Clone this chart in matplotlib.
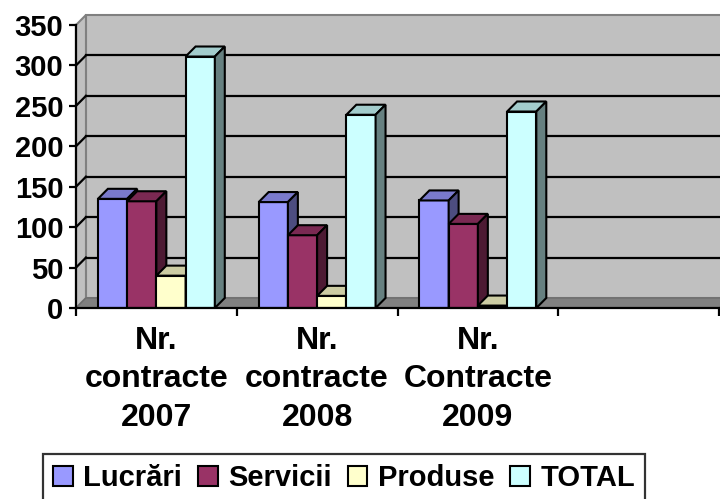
import matplotlib
matplotlib.use('Agg')
import matplotlib.pyplot as plt
from matplotlib.patches import Polygon, Patch

categories = ['Nr.\ncontracte\n2007', 'Nr.\ncontracte\n2008', 'Nr.\nContracte\n2009', '']
series = ['Lucrări', 'Servicii', 'Produse', 'TOTAL']
lucrari = [135, 131, 133]
servicii = [132, 90, 104]
produse = [40, 15, 3]
total = [311, 239, 243]
values = [lucrari, servicii, produse, total]

front = ['#9999FF', '#993366', '#FFFFCC', '#CCFFFF']
top_c = ['#7A7ACC', '#7A2952', '#CCCCA3', '#A3CCCC']
side_c = ['#4D4D80', '#4D1A33', '#808066', '#668080']

plt.rcParams['font.family'] = ['Liberation Sans', 'DejaVu Sans']
plt.rcParams['font.weight'] = 'bold'

fig = plt.figure(figsize=(7.2, 4.99), dpi=100)
ax = fig.add_axes([76 / 720, 191 / 499, 643 / 720, 283 / 499])
ax.set_xlim(0, 4)
ax.set_ylim(0, 350)

dx, dy = 0.062, 12.4
ymax = 350
ncat = len(categories)

# walls and floor
ax.add_patch(Polygon([(dx, dy), (ncat + dx, dy), (ncat + dx, ymax + dy), (dx, ymax + dy)],
                     closed=True, facecolor='#C0C0C0', edgecolor='#808080', lw=1.5,
                     clip_on=False, zorder=0))
ax.add_patch(Polygon([(0, 0), (dx, dy), (dx, ymax + dy), (0, ymax)],
                     closed=True, facecolor='#C0C0C0', edgecolor='#808080', lw=1.5,
                     clip_on=False, zorder=0))
ax.add_patch(Polygon([(0, 0), (ncat, 0), (ncat + dx, dy), (dx, dy)],
                     closed=True, facecolor='#808080', edgecolor='#6E6E6E', lw=1,
                     clip_on=False, zorder=0.5))
for v in range(50, ymax, 50):
    ax.plot([dx, ncat + dx], [v + dy, v + dy], color='black', lw=1.6, clip_on=False, zorder=1)
    ax.plot([0, dx], [v, v + dy], color='black', lw=1.6, clip_on=False, zorder=1)

# 3d bars
w = 1 / 5.5
gap = 0.75 * w
for j, vals in enumerate(values):
    lefts = [i + gap + j * w for i in range(len(vals))]
    ax.bar(lefts, vals, width=w, align='edge', color=front[j], edgecolor='black',
           linewidth=1.5, zorder=3 + j)
    for x0, h in zip(lefts, vals):
        ax.add_patch(Polygon([(x0, h), (x0 + dx, h + dy), (x0 + w + dx, h + dy), (x0 + w, h)],
                             closed=True, facecolor=top_c[j], edgecolor='black', lw=1.5,
                             zorder=3 + j, clip_on=False))
        ax.add_patch(Polygon([(x0 + w, 0), (x0 + w + dx, dy), (x0 + w + dx, h + dy), (x0 + w, h)],
                             closed=True, facecolor=side_c[j], edgecolor='black', lw=1.5,
                             zorder=3 + j, clip_on=False))

ax.set_facecolor('none')
for s in ['top', 'right']:
    ax.spines[s].set_visible(False)
for s in ['left', 'bottom']:
    ax.spines[s].set_linewidth(1.6)
    ax.spines[s].set_zorder(10)

ax.set_yticks(range(0, ymax + 1, 50))
ax.tick_params(axis='y', labelsize=21, length=5, width=1.6, pad=4)
ax.set_xticks(range(ncat + 1))
ax.set_xticklabels([])
ax.set_xticks([i + 0.5 for i in range(ncat)], minor=True)
ax.set_xticklabels(categories, minor=True, fontsize=23, linespacing=1.36)
ax.tick_params(axis='x', which='major', length=6, width=1.6)
ax.tick_params(axis='x', which='minor', length=0, pad=13)
for lab in ax.get_yticklabels() + ax.get_xticklabels(minor=True):
    lab.set_fontweight('bold')

handles = [Patch(facecolor=front[j], edgecolor='black', lw=1.5) for j in range(4)]
fig.legend(handles, series, loc='upper center', bbox_to_anchor=(344 / 720, 1 - 454 / 499),
           ncol=4, fontsize=21, frameon=True, fancybox=False, edgecolor='black',
           handlelength=0.68, handleheight=0.68, handletextpad=0.35, columnspacing=0.55,
           borderpad=0.35, borderaxespad=0)
fig.legends[0].get_frame().set_linewidth(1.6)

fig.savefig('out.png', dpi=100)
